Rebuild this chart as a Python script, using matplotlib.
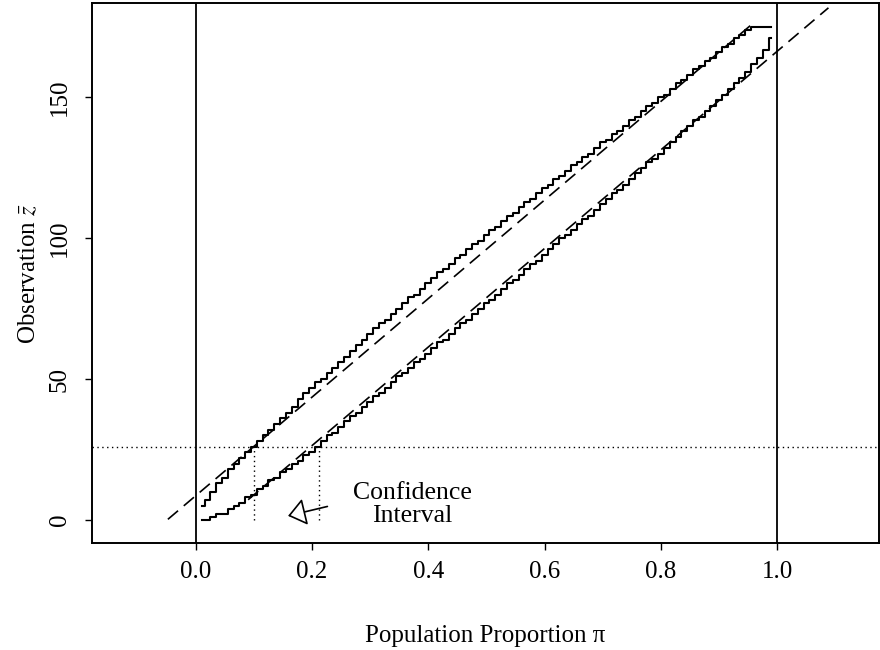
import numpy as np
import matplotlib
matplotlib.use("Agg")
import matplotlib.pyplot as plt

plt.rcParams["font.family"] = ["Liberation Serif", "DejaVu Serif"]
plt.rcParams["mathtext.fontset"] = "stix"

# population proportion grid
pi_grid = [k / 100 for k in range(1, 100)]

# upper limit of the acceptance region for each proportion
upper_limit = [
    5, 7, 10, 13, 15, 18, 20, 22, 24, 26,
    28, 30, 32, 34, 36, 38, 40, 43, 45, 47,
    49, 50, 52, 54, 56, 58, 60, 62, 64, 66,
    68, 70, 71, 73, 75, 77, 79, 80, 82, 84,
    86, 88, 89, 91, 93, 94, 96, 98, 99, 101,
    103, 104, 106, 108, 109, 111, 113, 114, 116, 118,
    119, 121, 122, 124, 126, 127, 129, 130, 132, 134,
    135, 137, 138, 140, 142, 143, 145, 147, 148, 150,
    151, 153, 155, 156, 158, 160, 161, 163, 164, 166,
    168, 169, 171, 172, 174, 175, 175, 175, 175,
]

# lower limit of the acceptance region for each proportion
lower_limit = [
    0, 0, 1, 2, 2, 4, 5, 6, 8, 9,
    11, 12, 14, 15, 17, 18, 20, 21, 23, 24,
    26, 28, 30, 31, 33, 35, 37, 38, 40, 42,
    44, 45, 47, 49, 51, 52, 54, 56, 57, 59,
    61, 63, 64, 66, 68, 70, 71, 73, 75, 77,
    78, 80, 82, 84, 85, 87, 89, 91, 92, 94,
    96, 98, 100, 101, 103, 105, 107, 108, 110, 112,
    114, 116, 117, 119, 121, 123, 125, 127, 128, 130,
    132, 134, 136, 138, 140, 142, 143, 145, 147, 149,
    151, 153, 155, 157, 159, 162, 164, 167, 171,
]

# normal-approximation limits: z = slope * pi +/- offset
approx_slope = 175.0
approx_offset = 8.6
upper_approx_range = [-0.048, 0.96]
lower_approx_range = [0.09, 1.088]

# observed value and the resulting interval
z_observed = 26
ci_bounds = [0.10, 0.212]

# annotation
note_text = "Confidence\nInterval"
note_pos = (0.372, 5.5)
arrow_tail = (0.231, 5.0)
arrow_tip = (0.154, 1.2)

x_ticks = [0.0, 0.2, 0.4, 0.6, 0.8, 1.0]
x_ticklabels = ["0.0", "0.2", "0.4", "0.6", "0.8", "1.0"]
y_ticks = [0, 50, 100, 150]
y_ticklabels = ["0", "50", "100", "150"]

fig = plt.figure(figsize=(8.8, 6.5), dpi=100)
ax = fig.add_axes([0.1042, 0.1642, 0.8947, 0.8307])

ax.step(pi_grid, upper_limit, where="mid", color="black", lw=1.5)
ax.step(pi_grid, lower_limit, where="mid", color="black", lw=1.5)

for rng, sign in ((upper_approx_range, 1), (lower_approx_range, -1)):
    xs = np.array(rng)
    ax.plot(xs, approx_slope * xs + sign * approx_offset, color="black",
            lw=1.2, dashes=(8, 4.5))

ax.axvline(0.0, color="black", lw=1.3)
ax.axvline(1.0, color="black", lw=1.3)
ax.axhline(z_observed, color="black", lw=1.0, ls=(0, (1, 2.5)))
for b in ci_bounds:
    ax.plot([b, b], [0, z_observed], color="black", lw=1.0, ls=(0, (1, 2.5)))

ax.text(note_pos[0], note_pos[1], note_text, ha="center", va="center",
        fontsize=18.5, linespacing=1.1)
ax.annotate("", xy=arrow_tip, xytext=arrow_tail,
            arrowprops=dict(arrowstyle="-|>,head_length=1.1,head_width=0.85",
                            fc="white", ec="black", lw=1.2))

ax.set_xlim(-0.179, 1.175)
ax.set_ylim(-8.3, 183.4)
ax.set_xticks(x_ticks)
ax.set_xticklabels(x_ticklabels)
ax.set_yticks(y_ticks)
ax.set_yticklabels(y_ticklabels, rotation=90, va="center")
ax.tick_params(direction="out", length=5, width=1.0, labelsize=18, pad=8)
ax.tick_params(axis="y", pad=10)
for s in ax.spines.values():
    s.set_linewidth(1.4)

ax.set_xlabel("Population Proportion π", fontsize=18, labelpad=30)
ax.set_ylabel(r"Observation $\bar{z}$", fontsize=18, labelpad=6)

fig.savefig("out.png", dpi=100)
